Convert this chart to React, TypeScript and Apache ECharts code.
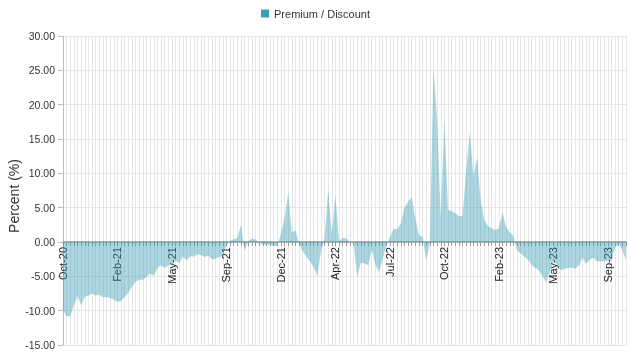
import React, { useEffect, useRef } from "react";
import * as echarts from "echarts";

const seriesName = "Premium / Discount";
const startDate = "2020-10-23"; // weekly observations (Fridays)
const tickLabels = [
  "Oct-20", "Feb-21", "May-21", "Sep-21", "Dec-21", "Apr-22",
  "Jul-22", "Oct-22", "Feb-23", "May-23", "Sep-23",
];
const tickEvery = 15;

const premiumDiscount = [
  -9.9, -10.8, -10.8, -9.2, -7.9, -9.2, -8.0, -7.8, -7.5, -7.8,
  -7.7, -8.1, -8.0, -8.2, -8.4, -8.7, -8.6, -8.0, -7.3, -6.5,
  -5.8, -5.5, -5.5, -5.1, -4.6, -4.9, -3.8, -3.4, -3.8, -3.4,
  -3.4, -2.7, -3.1, -2.1, -2.7, -2.1, -2.1, -1.8, -1.9, -2.2,
  -2.0, -2.5, -2.4, -2.2, -2.0, -0.4, 0.2, 0.4, 0.6, 2.5,
  -1.3, 0.1, 0.5, 0.4, -0.1, -0.3, -0.4, -0.4, -0.6, -0.6,
  1.2, 3.5, 7.2, 1.4, 1.7, -0.3, -1.4, -2.1, -2.8, -3.6,
  -5.0, -1.5, 0.5, 7.6, 1.2, 6.8, 0.2, 0.6, 0.5, 0.0,
  -0.1, -5.1, -3.0, -3.1, -3.4, -1.2, -3.3, -4.4, -2.5, -0.5,
  0.7, 1.9, 1.9, 2.7, 5.0, 5.9, 6.5, 3.5, 1.0, 0.8,
  -2.7, -0.2, 25.3, 18.0, 3.6, 17.8, 4.7, 4.5, 4.2, 3.8,
  3.8, 10.5, 15.9, 9.6, 12.3, 6.0, 3.2, 2.3, 2.0, 1.7,
  2.0, 4.3, 2.2, 1.4, 0.9, -1.2, -1.7, -2.1, -2.6, -3.3,
  -3.8, -4.1, -5.0, -5.8, -4.4, -2.8, -3.4, -4.1, -3.9, -3.8,
  -3.7, -3.9, -3.5, -2.3, -3.2, -2.6, -2.3, -2.8, -2.8, -2.8,
  -2.7, -2.7, -0.8, -0.3, -1.2, -2.6,
];

const yMin = -15;
const yMax = 30;
const yStep = 5;

const gridTop = 36;
const gridBottom = 10;
const chartH = 355;

function buildCategories(): string[] {
  const out: string[] = [];
  const d0 = new Date(startDate + "T00:00:00Z");
  for (let i = 0; i < premiumDiscount.length; i++) {
    const d = new Date(d0.getTime() + i * 7 * 86400000);
    out.push(d.toISOString().slice(0, 10));
  }
  return out;
}

export default function App() {
  const ref = useRef<HTMLDivElement>(null);

  useEffect(() => {
    if (!ref.current) return;
    const chart = echarts.init(ref.current, undefined, { renderer: "svg" });
    const categories = buildCategories();
    const teal = "#3aa0b5";
    // distance from plot bottom up to the zero line, so labels sit just under zero
    const plotH = chartH - gridTop - gridBottom;
    const zeroFromBottom = plotH * (0 - yMin) / (yMax - yMin);
    chart.setOption({
      animation: false,
      textStyle: { fontFamily: "Arial, 'Liberation Sans', sans-serif" },
      legend: {
        top: 3,
        left: "center",
        icon: "rect",
        itemWidth: 8,
        itemHeight: 8,
        itemGap: 10,
        textStyle: { fontSize: 11, color: "#333" },
        data: [seriesName],
      },
      grid: {
        left: 63,
        right: 5,
        top: gridTop,
        bottom: gridBottom,
        containLabel: false,
        outerBoundsMode: "none",
      },
      graphic: [
        {
          type: "text",
          x: 14,
          y: 196,
          rotation: Math.PI / 2,
          style: {
            text: "Percent (%)",
            fontSize: 14,
            fill: "#333",
            fontFamily: "Arial, 'Liberation Sans', sans-serif",
            textAlign: "center",
            textVerticalAlign: "middle",
          },
        },
      ],
      xAxis: {
        type: "category",
        data: categories,
        boundaryGap: false,
        axisLine: { onZero: true, lineStyle: { color: "#999", width: 1.5 } },
        axisTick: { show: true, interval: 0, length: 4, lineStyle: { color: "#999" } },
        axisLabel: {
          interval: tickEvery - 1,
          rotate: 90,
          margin: 5 - zeroFromBottom,
          fontSize: 11,
          color: "#222",
          hideOverlap: false,
          formatter: (_v: string, i: number) =>
            i % tickEvery === 0 ? tickLabels[i / tickEvery] ?? "" : "",
        },
        splitLine: { show: true, interval: 0, lineStyle: { color: "#e6e6e6", width: 1 } },
      },
      yAxis: {
        type: "value",
        min: yMin,
        max: yMax,
        interval: yStep,
        axisLine: { show: true, lineStyle: { color: "#bbb" } },
        axisTick: { show: true, length: 5, lineStyle: { color: "#bbb" } },
        axisLabel: {
          fontSize: 10.5,
          color: "#333",
          margin: 8,
          formatter: (v: number) => v.toFixed(2),
        },
        splitLine: { show: true, lineStyle: { color: "#e6e6e6" } },
      },
      series: [
        {
          name: seriesName,
          type: "line",
          data: premiumDiscount,
          symbol: "none",
          color: teal,
          itemStyle: { color: teal },
          lineStyle: { width: 0 },
          areaStyle: { color: teal, opacity: 0.42 },
        },
      ],
    });
    return () => chart.dispose();
  }, []);

  return (
    <div
      ref={ref}
      style={{ position: "fixed", left: 0, top: 0, width: 631, height: 355 }}
    />
  );
}
